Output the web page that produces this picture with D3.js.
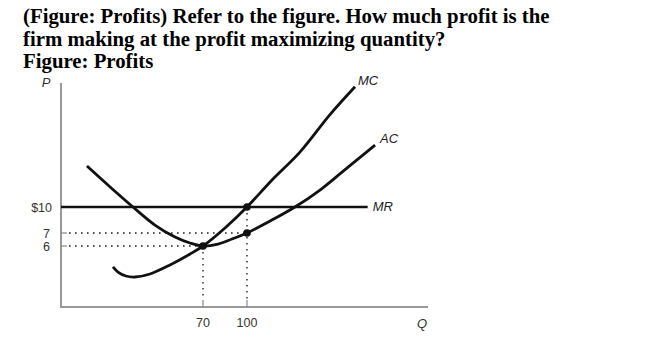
<!DOCTYPE html>
<html><head><meta charset="utf-8">
<script src="https://cdn.jsdelivr.net/npm/d3@7"></script>
<style>body{margin:0;background:#fff}svg{display:block}</style>
</head><body>
<script>
// ---- data ----
const titleLines = ["(Figure: Profits) Refer to the figure. How much profit is the",
                    "firm making at the profit maximizing quantity?",
                    "Figure: Profits"];
const xTicks = [70, 100];
const yTicks = [{v:10,label:"$10"},{v:7,label:"7"},{v:6,label:"6"}];
const priceMR = 10;
// MC curve (Q, P)
const mcQ = [25.6, 28.1, 32.0, 36.5, 43.9, 53.7, 63.6, 70, 85, 100, 116.6, 135.1, 155.0, 171.6];
const mcP = [3.94, 3.44, 3.05, 2.95, 3.25, 4.13, 5.21, 6, 7.58, 10, 13.1, 16.3, 20.6, 23.8];
// AC curve (Q, P)
const acQ = [12.8, 24.2, 35.5, 46.3, 56.2, 63.6, 70, 80.2, 89.8, 100, 115.3, 131.8, 148.4, 163.0, 184.9];
const acP = [14.7, 12.3, 10, 7.92, 6.69, 6.23, 6, 6.15, 6.54, 7, 8.38, 10, 11.95, 14.0, 17.1];
const mrQmax = 180;
const points = [{q:70,p:6},{q:100,p:10},{q:100,p:7}];

const W = 650, H = 357;
const svg = d3.select("body").append("svg").attr("width", W).attr("height", H);

// title
const tt = svg.append("text").attr("font-family","'Liberation Serif','Times New Roman',serif")
  .attr("font-weight","bold").attr("font-size",20.8).attr("fill","#000");
titleLines.forEach((t,i)=>tt.append("tspan").attr("x",23).attr("y",23+i*22.5).text(t));

// scales (figure is not drawn to scale -> piecewise linear)
const x = d3.scaleLinear().domain([0,70,100,220]).range([61,203,247,428]);
const y = d3.scaleLinear().domain([0,6,7,10,24]).range([307,246,233,207,85]);

const sans = "'Liberation Sans',Arial,sans-serif";

// axes
svg.append("line").attr("x1",x(0)).attr("x2",x(0)).attr("y1",y(24)-2).attr("y2",y(0)+1)
  .attr("stroke","#999").attr("stroke-width",2);
svg.append("line").attr("x1",x(0)-1).attr("x2",x(220)).attr("y1",y(0)).attr("y2",y(0))
  .attr("stroke","#999").attr("stroke-width",2);

// ticks
xTicks.forEach(q=>{
  svg.append("line").attr("x1",x(q)).attr("x2",x(q)).attr("y1",y(0)-7).attr("y2",y(0))
    .attr("stroke","#888").attr("stroke-width",1.2);
  svg.append("text").attr("x",x(q)).attr("y",y(0)+20).attr("text-anchor","middle")
    .attr("font-family",sans).attr("font-size",12.5).attr("fill","#333").text(q);
});
yTicks.forEach(t=>{
  if (t.v !== priceMR) svg.append("line").attr("x1",x(0)).attr("x2",x(0)+6).attr("y1",y(t.v)).attr("y2",y(t.v))
    .attr("stroke","#888").attr("stroke-width",1.2);
  svg.append("text").attr("x",t.v===10?52:50).attr("y",y(t.v)).attr("dy","0.36em").attr("text-anchor","end")
    .attr("font-family",sans).attr("font-size",12.5).attr("fill","#333").text(t.label);
});

// dotted guides
const dot = (x1,y1,x2,y2)=>svg.append("line").attr("x1",x1).attr("y1",y1).attr("x2",x2).attr("y2",y2)
  .attr("stroke","#555").attr("stroke-width",1.8).attr("stroke-dasharray","1.6,4.4").attr("stroke-linecap","butt");
dot(x(0)+8,y(7),x(100),y(7));
dot(x(0)+8,y(6),x(70),y(6));
dot(x(70),y(6),x(70),y(0)-8);
dot(x(100),y(10),x(100),y(0)-8);

// axis labels
svg.append("text").attr("x",46).attr("y",87).attr("text-anchor","middle").attr("font-family",sans)
  .attr("font-style","italic").attr("font-size",13).attr("fill","#333").text("P");
svg.append("text").attr("x",422).attr("y",328).attr("text-anchor","middle").attr("font-family",sans)
  .attr("font-style","italic").attr("font-size",13).attr("fill","#333").text("Q");

// MR
svg.append("line").attr("x1",x(0)).attr("x2",x(mrQmax)).attr("y1",y(priceMR)).attr("y2",y(priceMR))
  .attr("stroke","#111").attr("stroke-width",2.6);

const line = d3.line().x(d=>x(d[0])).y(d=>y(d[1])).curve(d3.curveCatmullRom.alpha(0.5));
svg.append("path").attr("d",line(d3.zip(mcQ,mcP))).attr("fill","none").attr("stroke","#111").attr("stroke-width",2.8);
svg.append("path").attr("d",line(d3.zip(acQ,acP))).attr("fill","none").attr("stroke","#111").attr("stroke-width",2.8);

// points
svg.selectAll("circle.pt").data(points).join("circle").attr("class","pt")
  .attr("cx",d=>x(d.q)).attr("cy",d=>y(d.p)).attr("r",3.8).attr("fill","#111");

// curve labels
const lab = (t,xx,yy)=>svg.append("text").attr("x",xx).attr("y",yy).attr("font-family",sans)
  .attr("font-style","italic").attr("font-size",13).attr("fill","#222").text(t);
lab("MC", x(mcQ[mcQ.length-1])+3, y(mcP[mcP.length-1])-2);
lab("AC", x(acQ[acQ.length-1])+5, y(acP[acP.length-1])-2);
lab("MR", x(mrQmax)+5, y(priceMR)+4);
</script>
</body></html>
